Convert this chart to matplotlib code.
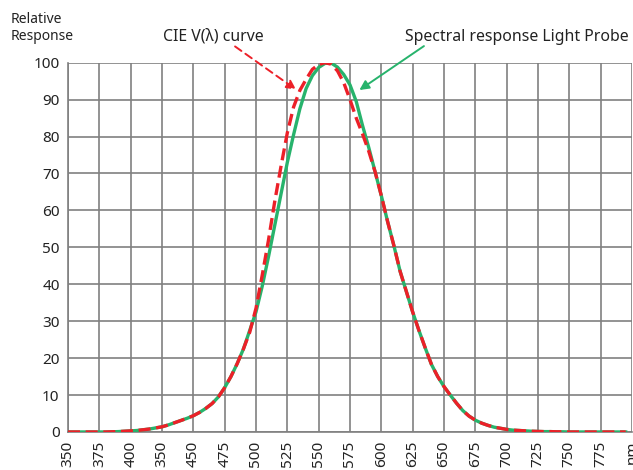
import numpy as np
import matplotlib
matplotlib.use('Agg')
import matplotlib.pyplot as plt

plt.rcParams['font.family'] = ['Noto Sans', 'DejaVu Sans']

# wavelengths, 5 nm step
wl = list(range(350, 800, 5))

# CIE V(lambda) curve
cie = [0, 0, 0, 0, 0, 0, 0, 0.05, 0.1, 0.2,
       0.3, 0.4, 0.6, 0.8, 1.1, 1.4, 1.9, 2.5, 3.1, 3.7,
       4.4, 5.3, 6.4, 7.7, 9.5, 12.0, 15.0, 18.5, 22.5, 27,
       33.5, 42.5, 52, 62.5, 72, 81, 88, 92.5, 95.5, 98.2,
       99.5, 100, 99.6, 97.8, 94.6, 90, 85, 80.7, 76, 70.5,
       64, 57, 50.5, 43.5, 38, 32.5, 27.5, 22.8, 18.3, 15,
       12.3, 10, 7.8, 5.8, 4.3, 3.2, 2.4, 1.8, 1.3, 1.0,
       0.7, 0.5, 0.4, 0.3, 0.2, 0.15, 0.1, 0.1, 0.05, 0.05,
       0, 0, 0, 0, 0, 0, 0, 0, 0, 0]

# light probe spectral response (differs from CIE between 495 and 590 nm)
probe = list(cie)
probe_mid = {495: 27.5, 500: 32.5, 505: 39.5, 510: 47.5, 515: 56, 520: 64.5,
             525: 73, 530: 80.5, 535: 87.5, 540: 93, 545: 96.5, 550: 98.7,
             555: 99.8, 560: 99.9, 565: 98.8, 570: 96.8, 575: 94, 580: 89.5,
             585: 83, 590: 77}
for k, v in probe_mid.items():
    probe[wl.index(k)] = v

xticks = list(range(350, 825, 25))
xlabels = ['350', '375', '400', '350', '450', '475', '500', '525', '550', '575',
           '600', '625', '650', '675', '700', '725', '750', '775', 'nm']
yticks = list(range(0, 110, 10))

fig = plt.figure(figsize=(6.33, 4.70), dpi=100)
ax = fig.add_axes([0.1074, 0.0809, 0.8910, 0.7857])

ax.plot(wl, probe, color='#27b36c', lw=2.4, zorder=3)
ax.plot(wl, cie, color='#ec2028', lw=2.4, ls=(0, (3.6, 1.7)), zorder=4)

ax.set_xlim(350, 800)
ax.set_ylim(0, 100)
ax.set_xticks(xticks)
ax.set_xticklabels(xlabels, rotation=90, fontsize=11, color='#222222')
ax.set_yticks(yticks)
ax.set_yticklabels([str(t) for t in yticks], fontsize=11, color='#222222')
ax.tick_params(length=0, pad=6)
ax.grid(True, color='#808080', lw=1.2)
ax.set_axisbelow(True)
for s in ax.spines.values():
    s.set_visible(False)
for side in ('left', 'bottom'):
    ax.spines[side].set_visible(True)
    ax.spines[side].set_color('#808080')
    ax.spines[side].set_linewidth(1.2)

ax.text(465.7, 107, 'CIE V(λ) curve', ha='center', va='center',
        fontsize=11.4, color='#222222', clip_on=False)
ax.text(708, 107, 'Spectral response Light Probe', ha='center', va='center',
        fontsize=11.4, color='#222222', clip_on=False)

ax.annotate('', xy=(532, 92.7), xytext=(483.3, 104.4),
            arrowprops=dict(arrowstyle='-|>', color='#ec2028', lw=1.4,
                            ls=(0, (4, 2.5)), mutation_scale=14,
                            shrinkA=0, shrinkB=0),
            annotation_clip=False)
ax.annotate('', xy=(582.5, 92.6), xytext=(634, 104.5),
            arrowprops=dict(arrowstyle='-|>', color='#27b36c', lw=1.4,
                            mutation_scale=14, shrinkA=0, shrinkB=0),
            annotation_clip=False)

fig.text(0.016, 0.975, 'Relative\nResponse', ha='left', va='top',
         fontsize=10, color='#222222', linespacing=1.25)

fig.savefig('out.png', dpi=100)
